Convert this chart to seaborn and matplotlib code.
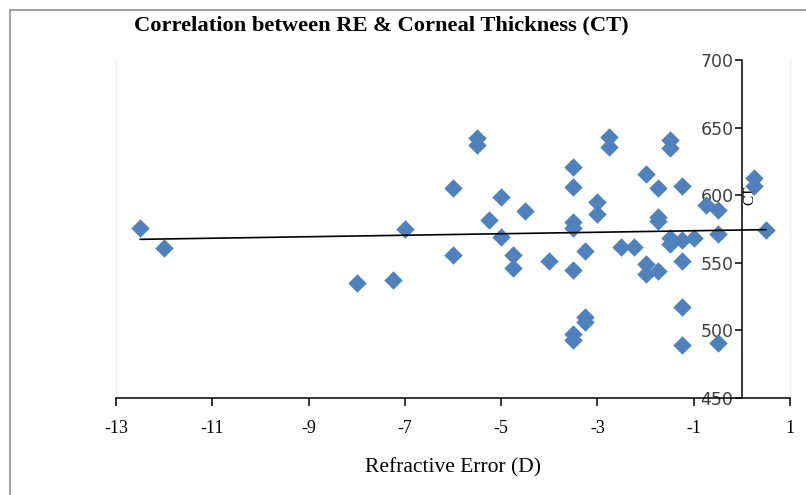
import matplotlib
matplotlib.use("Agg")
import matplotlib.pyplot as plt
import seaborn as sns
import pandas as pd
from matplotlib.lines import Line2D

# ---- data ----
refractive_error = [
    -12.5, -12, -8, -7.25, -7, -6, -6, -5.5, -5.5, -5.25, -5, -5, -4.75, -4.75,
    -4.5, -4, -3.5, -3.5, -3.5, -3.5, -3.5, -3.5, -3.5, -3.25, -3.25, -3.25,
    -3, -3, -2.75, -2.75, -2.5, -2.25, -2, -2, -2, -1.75, -1.75, -1.75, -1.75,
    -1.5, -1.5, -1.5, -1.5, -1.25, -1.25, -1.25, -1.25, -1.25, -1, -0.75,
    -0.5, -0.5, -0.5, 0.25, 0.25, 0.5,
]
corneal_thickness = [
    576, 561, 535, 537, 575, 605, 556, 642, 637, 582, 599, 569, 556, 546,
    588, 551, 621, 606, 580, 576, 545, 497, 493, 559, 510, 506,
    595, 586, 643, 636, 562, 562, 616, 549, 542, 605, 584, 581, 544,
    641, 635, 568, 564, 607, 567, 551, 517, 489, 568, 593,
    589, 571, 491, 613, 607, 574,
]
x_ticks = [-13, -11, -9, -7, -5, -3, -1, 1]
y_ticks = [450, 500, 550, 600, 650, 700]

title = "Correlation between RE & Corneal Thickness (CT)"
x_label = "Refractive Error (D)"
y_label = "CT"

df = pd.DataFrame({"RE": refractive_error, "CT": corneal_thickness})

sns.set_style("white")
fig = plt.figure(figsize=(8.06, 4.95), dpi=100)
ax = fig.add_axes([116 / 806, 1 - 398 / 495, (790 - 116) / 806, (398 - 60) / 495])

sns.regplot(
    data=df, x="RE", y="CT", ax=ax, ci=None, marker="D",
    scatter_kws=dict(s=82, color="#4F81BD", edgecolor="#4F81BD", linewidths=0.3, alpha=1),
    line_kws=dict(color="black", lw=1.2),
)

ax.set_xlim(-13, 1)
ax.set_ylim(450, 700)
ax.set_xticks(x_ticks)
ax.set_yticks(y_ticks)
ax.set_xticklabels([str(t) for t in x_ticks])

# faint plot-area edges
for xv in (-13, 1):
    ax.axvline(xv, color="#ececec", lw=1.0, clip_on=False, zorder=0)

for s in ("top", "right"):
    ax.spines[s].set_visible(False)
ax.spines["left"].set_position(("data", 0))
ax.spines["left"].set_color("black")
ax.spines["bottom"].set_color("black")
ax.spines["left"].set_linewidth(1.1)
ax.spines["bottom"].set_linewidth(1.1)
ax.spines["left"].set_zorder(1)

ax.tick_params(axis="x", bottom=True, direction="out", length=6, width=1.1, color="black",
               pad=10, labelsize=13, labelcolor="black")
ax.tick_params(axis="y", left=True, direction="out", length=5, width=1.1, color="black",
               pad=1, labelsize=12.5, labelcolor="#404040")
for lbl in ax.get_xticklabels():
    lbl.set_fontfamily("Liberation Serif")
for lbl in ax.get_yticklabels():
    lbl.set_fontfamily("DejaVu Sans")

ax.set_xlabel(x_label, fontfamily="Liberation Serif", fontsize=15.5, labelpad=15, color="black")
ax.set_ylabel(y_label, fontfamily="Liberation Serif", fontsize=11, color="black", rotation=90)
ax.yaxis.set_label_coords(0.17, 600, transform=ax.transData)
ax.yaxis.label.set_va("center")
ax.yaxis.label.set_ha("center")

fig.text(381 / 806, 1 - 25 / 495, title, ha="center", va="center",
         fontfamily="Liberation Serif", fontweight="bold", fontsize=16.2, color="black")

# outer frame (top and left edges visible in the reference)
fig.add_artist(Line2D([9.5 / 806, 9.5 / 806], [0, 1 - 9.5 / 495], transform=fig.transFigure,
                      color="#9a9a9a", lw=1.3))
fig.add_artist(Line2D([9.5 / 806, 1], [1 - 9.5 / 495, 1 - 9.5 / 495], transform=fig.transFigure,
                      color="#9a9a9a", lw=1.3))

fig.savefig("out.png", dpi=100)
